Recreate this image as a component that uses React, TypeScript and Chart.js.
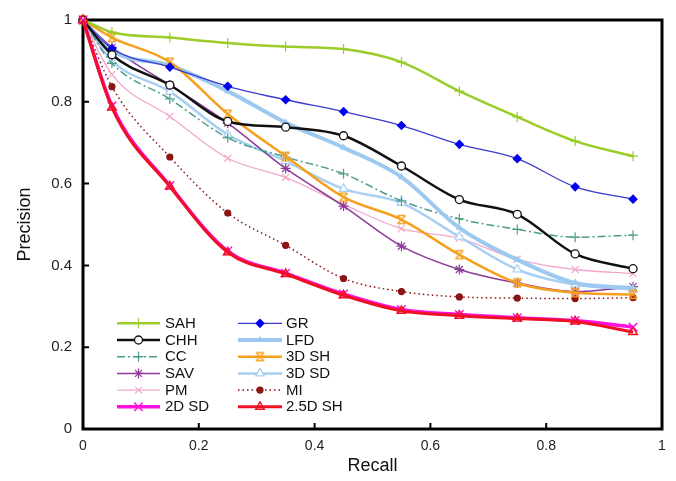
import React, { useEffect, useRef } from "react";
import { Chart, registerables, PointElement } from "chart.js";

Chart.register(...registerables);

const recall = [0, 0.05, 0.15, 0.25, 0.35, 0.45, 0.55, 0.65, 0.75, 0.85, 0.95];
const xTickLabels = ["0", "0.2", "0.4", "0.6", "0.8", "1"];
const yTickLabels = ["0", "0.2", "0.4", "0.6", "0.8", "1"];

const sahValues = [1, 0.97, 0.957, 0.944, 0.935, 0.929, 0.897, 0.826, 0.763, 0.704, 0.667];
const grValues = [1, 0.93, 0.885, 0.838, 0.805, 0.776, 0.742, 0.696, 0.661, 0.592, 0.562];
const chhValues = [1, 0.915, 0.841, 0.752, 0.738, 0.717, 0.643, 0.561, 0.525, 0.428, 0.392];
const lfdValues = [1, 0.925, 0.889, 0.826, 0.749, 0.688, 0.616, 0.492, 0.414, 0.357, 0.345];
const ccValues = [1, 0.894, 0.807, 0.712, 0.665, 0.624, 0.558, 0.514, 0.488, 0.469, 0.474];
const sh3dValues = [1, 0.957, 0.897, 0.77, 0.667, 0.567, 0.512, 0.426, 0.357, 0.333, 0.329];
const savValues = [1, 0.933, 0.841, 0.748, 0.637, 0.545, 0.447, 0.39, 0.357, 0.336, 0.348];
const sd3dValues = [1, 0.9, 0.825, 0.72, 0.655, 0.587, 0.553, 0.47, 0.39, 0.353, 0.341];
const pmValues = [1, 0.867, 0.764, 0.662, 0.615, 0.549, 0.49, 0.466, 0.415, 0.39, 0.38];
const miValues = [1, 0.837, 0.665, 0.528, 0.449, 0.368, 0.336, 0.323, 0.32, 0.319, 0.321];
const sd2dValues = [1, 0.79, 0.595, 0.435, 0.381, 0.33, 0.292, 0.28, 0.272, 0.265, 0.249];
const sh25dValues = [1, 0.786, 0.593, 0.432, 0.379, 0.327, 0.289, 0.277, 0.27, 0.263, 0.237];

const legendCol1 = ["SAH", "CHH", "CC", "SAV", "PM", "2D SD"];
const legendCol2 = ["GR", "LFD", "3D SH", "3D SD", "MI", "2.5D SH"];

const FONT = "'Liberation Sans', Arial, Helvetica, sans-serif";

function makeBarX(color: string, size: number) {
  const c = document.createElement("canvas");
  c.width = size;
  c.height = size;
  const g = c.getContext("2d")!;
  g.strokeStyle = color;
  g.lineWidth = 1.3;
  const p = 1.5;
  const s = size - 1.5;
  g.beginPath();
  g.moveTo(p, p);
  g.lineTo(s, s);
  g.moveTo(s, p);
  g.lineTo(p, s);
  g.moveTo(p, p);
  g.lineTo(s, p);
  g.moveTo(p, s);
  g.lineTo(s, s);
  g.stroke();
  return c;
}

const framePlugin = {
  id: "frameTicks",
  beforeDatasetsDraw(chart: any) {
    const { ctx, chartArea, scales } = chart;
    ctx.save();
    ctx.strokeStyle = "#000";
    ctx.lineWidth = 3;
    ctx.strokeRect(chartArea.left, chartArea.top, chartArea.right - chartArea.left, chartArea.bottom - chartArea.top);
    ctx.lineWidth = 2;
    ctx.beginPath();
    for (const t of scales.x.ticks) {
      const px = scales.x.getPixelForValue(t.value);
      ctx.moveTo(px, chartArea.bottom);
      ctx.lineTo(px, chartArea.bottom - 6);
    }
    for (const t of scales.y.ticks) {
      const py = scales.y.getPixelForValue(t.value);
      ctx.moveTo(chartArea.left, py);
      ctx.lineTo(chartArea.left + 6, py);
    }
    ctx.stroke();
    ctx.restore();
  },
};

const legendPlugin = {
  id: "insideLegend",
  afterDraw(chart: any) {
    const { ctx, chartArea } = chart;
    const datasets = chart.data.datasets;
    const cols = [
      { items: legendCol1, x1: chartArea.left + 34, x2: chartArea.left + 77, tx: chartArea.left + 82 },
      { items: legendCol2, x1: chartArea.left + 155, x2: chartArea.left + 199, tx: chartArea.left + 203 },
    ];
    const y0 = chartArea.bottom - 105.7;
    const dy = 16.7;
    for (const col of cols) {
      col.items.forEach((label, i) => {
        const ds = datasets.find((d: any) => d.label === label);
        if (!ds) return;
        const y = y0 + i * dy;
        ctx.save();
        ctx.strokeStyle = ds.borderColor;
        ctx.lineWidth = ds.borderWidth;
        ctx.setLineDash(ds.borderDash || []);
        ctx.beginPath();
        ctx.moveTo(col.x1, y);
        ctx.lineTo(col.x2, y);
        ctx.stroke();
        ctx.restore();
        ctx.save();
        const pe: any = new PointElement({
          x: (col.x1 + col.x2) / 2,
          y,
          options: {
            pointStyle: ds.pointStyle,
            radius: ds.pointRadius,
            rotation: 0,
            borderWidth: ds.pointBorderWidth,
            borderColor: ds.pointBorderColor,
            backgroundColor: ds.pointBackgroundColor,
          },
        } as any);
        pe.draw(ctx);
        ctx.restore();
        ctx.save();
        ctx.font = `15px ${FONT}`;
        ctx.fillStyle = "#111";
        ctx.textBaseline = "middle";
        ctx.textAlign = "left";
        ctx.fillText(label, col.tx, y + 0.5);
        ctx.restore();
      });
    }
  },
};

export default function App() {
  const ref = useRef<HTMLCanvasElement>(null);

  useEffect(() => {
    document.body.style.margin = "0";
    document.body.style.overflow = "hidden";
    const canvas = ref.current!;
    const barX = makeBarX("#F5A01E", 11);

    const mk = (
      label: string,
      data: number[],
      color: string,
      width: number,
      opts: any
    ) => ({
      label,
      data: recall.map((r, i) => ({ x: r, y: data[i] })),
      borderColor: color,
      borderWidth: width,
      pointBorderColor: opts.pointColor || color,
      pointBackgroundColor: opts.pointBg || color,
      pointBorderWidth: opts.pbw ?? 1.2,
      pointStyle: opts.pointStyle,
      pointRadius: opts.radius,
      borderDash: opts.dash || [],
      order: opts.order ?? 5,
      cubicInterpolationMode: "monotone",
      fill: false,
      clip: false,
    });

    const datasets: any[] = [
      mk("SAH", sahValues, "#9BCC28", 2.5, { pointStyle: "cross", radius: 5, order: 4 }),
      mk("GR", grValues, "#3B3BD0", 1.3, { pointStyle: "rectRot", radius: 4, pointColor: "#0000F0", pointBg: "#0000F0", order: 3 }),
      mk("CHH", chhValues, "#111111", 2.5, { pointStyle: "circle", radius: 4, pointBg: "#FFFFFF", pbw: 1.3, order: 2 }),
      mk("LFD", lfdValues, "#9DC9F0", 4, { pointStyle: "triangle", radius: 3, order: 6 }),
      mk("CC", ccValues, "#4E9C8C", 1.5, { pointStyle: "cross", radius: 5, dash: [8, 3, 2, 3], order: 7 }),
      mk("3D SH", sh3dValues, "#F5A01E", 2.5, { pointStyle: barX, radius: 5, order: 5 }),
      mk("SAV", savValues, "#8E3B9A", 1.5, { pointStyle: "star", radius: 5, order: 8 }),
      mk("3D SD", sd3dValues, "#A8CFF3", 2.5, { pointStyle: "triangle", radius: 5, pointBg: "#FFFFFF", order: 9 }),
      mk("PM", pmValues, "#F2A8CC", 1.3, { pointStyle: "crossRot", radius: 5, order: 10 }),
      mk("MI", miValues, "#8B1414", 1.5, { pointStyle: "circle", radius: 3, dash: [1.5, 3], order: 11 }),
      mk("2D SD", sd2dValues, "#FF10E0", 3.5, { pointStyle: "crossRot", radius: 6, pbw: 1.5, order: 1 }),
      mk("2.5D SH", sh25dValues, "#F01024", 3, { pointStyle: "triangle", radius: 5, pointBg: "rgba(255,255,255,0)", pbw: 1.4, order: 0 }),
    ];

    const chart = new Chart(canvas, {
      type: "line",
      data: { datasets },
      options: {
        animation: false,
        responsive: false,
        devicePixelRatio: 1,
        layout: { padding: { top: 14, right: 14, left: 0, bottom: 0 } },
        plugins: {
          legend: { display: false },
          tooltip: { enabled: false },
        },
        scales: {
          x: {
            type: "linear",
            min: 0,
            max: 1,
            grid: { display: false, drawTicks: false },
            border: { display: false },
            ticks: {
              stepSize: 0.2,
              padding: 9,
              color: "#222",
              font: { family: FONT, size: 14 },
              maxRotation: 0,
              callback: (_v: any, i: number) => xTickLabels[i],
            },
            title: {
              display: true,
              text: "Recall",
              color: "#111",
              font: { family: FONT, size: 18 },
              padding: { top: 0, bottom: 4 },
            },
            afterFit: (s: any) => {
              s.height = 52;
            },
          },
          y: {
            type: "linear",
            min: 0,
            max: 1,
            grid: { display: false, drawTicks: false },
            border: { display: false },
            ticks: {
              stepSize: 0.2,
              padding: 11,
              color: "#222",
              font: { family: FONT, size: 15 },
              callback: (_v: any, i: number) => yTickLabels[i],
            },
            title: {
              display: true,
              text: "Precision",
              color: "#111",
              font: { family: FONT, size: 18 },
              padding: { top: 14, bottom: 0 },
            },
            afterFit: (s: any) => {
              s.width = 83;
            },
          },
        },
      },
      plugins: [framePlugin, legendPlugin],
    } as any);

    return () => chart.destroy();
  }, []);

  return (
    <canvas
      ref={ref}
      width={676}
      height={481}
      style={{ display: "block", width: 676, height: 481 }}
    />
  );
}
